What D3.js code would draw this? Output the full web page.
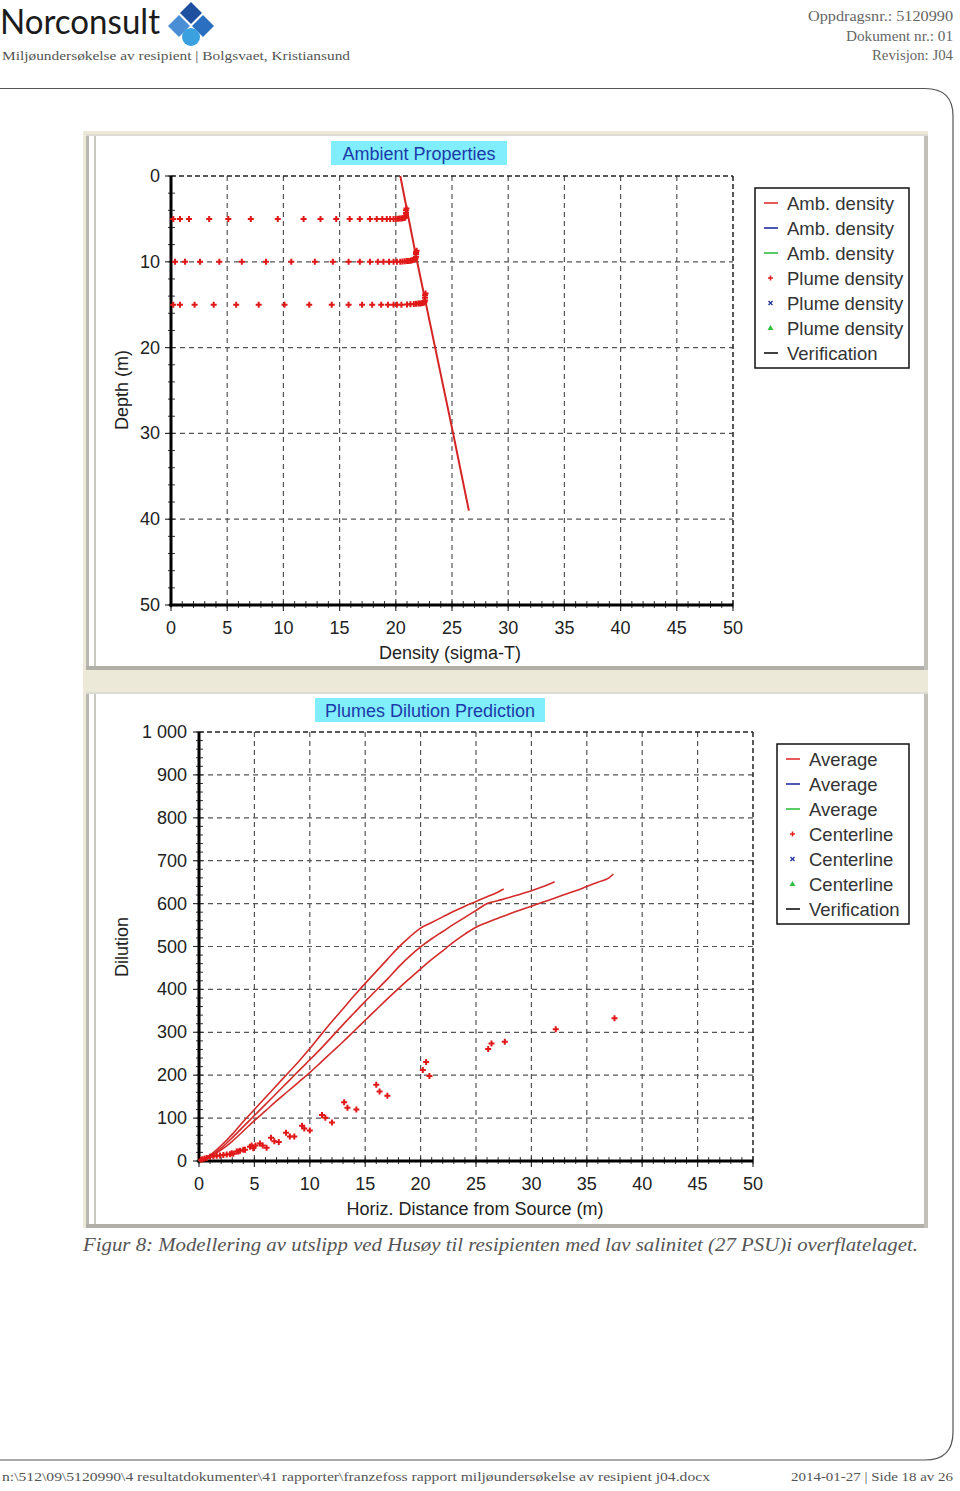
<!DOCTYPE html>
<html><head><meta charset="utf-8">
<script src="https://cdn.jsdelivr.net/npm/d3@7"></script>
<style>
html,body{margin:0;padding:0;background:#fff;}
svg{display:block;}
</style></head>
<body>
<script>
// ---------- DATA ----------
const densityTicks = [0,5,10,15,20,25,30,35,40,45,50];
const depthTicks = [0,10,20,30,40,50];
const ambientDensity = [20.4, 21.9, 23.5, 25.1, 26.5];
const ambientDepth = [0, 10, 20, 30, 39];

const plume1Density = [0.2,0.8,1.6,3.4,5.1,7.1,9.5,11.8,13.3,14.7,15.9,16.8,17.7,18.3,18.8,19.2,19.5,19.8,20.0,20.2,20.35,20.5,20.6,20.7,20.75,20.8,20.85,20.9,20.9,20.9,20.95];
const plume1Depth   = [5,5,5,5,5,5,5,5,5,5,5,5,5,5,5,5,5,5,5,4.98,4.96,4.94,4.92,4.9,4.87,4.84,4.8,4.6,4.3,4.0,3.8];
const plume2Density = [0.36,1.25,2.58,4.3,6.3,8.45,10.7,12.8,14.4,15.8,16.8,17.7,18.4,18.9,19.4,19.8,20.1,20.4,20.6,20.8,21.0,21.15,21.3,21.4,21.5,21.6,21.7,21.75,21.8,21.8,21.8,21.85];
const plume2Depth   = [10,10,10,10,10,10,10,10,10,10,10,10,10,10,10,10,10,10,9.97,9.95,9.92,9.9,9.87,9.84,9.8,9.75,9.7,9.6,9.4,9.1,8.9,8.7];
const plume3Density = [0.2,0.8,2.1,3.8,5.8,7.8,10.1,12.3,14.3,15.8,17.0,17.9,18.7,19.3,19.8,20.1,20.5,21.0,21.3,21.6,21.8,22.0,22.15,22.3,22.4,22.5,22.55,22.6,22.6,22.6,22.65];
const plume3Depth   = [15,15,15,15,15,15,15,15,15,15,15,15,15,15,15,15,15,14.97,14.95,14.92,14.9,14.87,14.85,14.82,14.8,14.75,14.7,14.5,14.2,13.9,13.7];

const distTicks = [0,5,10,15,20,25,30,35,40,45,50];
const dilutionTicks = [0,100,200,300,400,500,600,700,800,900,1000];
const dilutionTickLabels = ["0","100","200","300","400","500","600","700","800","900","1 000"];

const avg1X = [0,1,2,3,4,5,6,7,8,9,10,11,12,13,14,15,16,17,18,19,20,21,22,23,24,25,26,27,27.5];
const avg1Y = [0,14,36,62,92,120,148,176,204,232,262,294,325,355,385,414,442,470,498,522,543,556,569,582,594,605,616,627,634];
const avg2X = [0,1,2,3,4,5,6,7,8,9,10,11,12,13,14,15,16,17,18,19,20,21,22,23,24,25,26,27,28,29,30,31,32.1];
const avg2Y = [0,11,30,54,80,106,132,158,184,210,236,262,290,318,345,372,398,424,452,477,499,518,535,552,568,584,600,607,614,622,630,639,651];
const avg3X = [0,1,2,3,4,5,6,7,8,9,10,11,12,13,14,15,16,17,18,19,20,21,22,23,24,25,26,27,28,29,30,31,32,33,34,35,36,37,37.4];
const avg3Y = [0,10,26,46,70,94,117,140,162,184,206,230,254,278,303,328,353,378,402,425,448,470,490,511,529,545,556,566,576,585,594,603,612,621,630,640,650,660,669];

const centerX = [0.2,0.3,0.5,0.7,1.0,1.3,1.6,1.9,2.2,2.5,2.8,2.95,3.1,3.4,3.55,3.7,4.0,4.15,4.6,4.75,4.9,5.1,5.5,5.75,6.1,6.5,6.8,7.2,7.85,8.2,8.6,9.3,9.5,10.0,11.1,11.4,12.0,13.1,13.4,14.2,16.0,16.3,17.0,20.2,20.5,20.8,26.1,26.4,27.6,32.2,37.5];
const centerY = [3,4,6,7,10,11,12,13,14,15,16,18,17,22,22,24,26,26,33,36,30,36,41,36,31,54,46,44,66,57,57,82,76,71,107,101,90,137,124,120,178,162,152,212,231,198,261,274,278,307,333];

const legend1 = ["Amb. density","Amb. density","Amb. density","Plume density","Plume density","Plume density","Verification"];
const legend2 = ["Average","Average","Average","Centerline","Centerline","Centerline","Verification"];
const legendKinds = ["line","line","line","plus","x","tri","line"];
const legendColors = ["#e03030","#2030a0","#30c040","#e02020","#2030a0","#30c040","#111"];

// ---------- PAGE ----------
const W = 960, H = 1491;
const svg = d3.select("body").append("svg").attr("width", W).attr("height", H);
svg.append("rect").attr("width", W).attr("height", H).attr("fill", "#fff");

// header
svg.append("text").attr("x", 0).attr("y", 34).attr("font-family", "Lato, 'Open Sans', sans-serif")
  .attr("font-size", 34).attr("fill", "#1b1b1b").attr("textLength", 160).attr("lengthAdjust", "spacingAndGlyphs").text("Norconsult");
const logo = svg.append("g");
const dia = (cx, cy, r, c) => logo.append("path").attr("d", `M${cx},${cy-r}L${cx+r},${cy}L${cx},${cy+r}L${cx-r},${cy}Z`).attr("fill", c);
dia(191, 13, 11, "#1f4f9f");
dia(179, 26, 11, "#4a8fd6");
dia(203, 26, 11, "#2a6fc0");
logo.append("circle").attr("cx", 191).attr("cy", 37).attr("r", 9).attr("fill", "#3aa0e0");
svg.append("text").attr("x", 2).attr("y", 60).attr("font-family", "'Liberation Serif', serif").attr("font-size", 13.5)
  .attr("fill", "#555").attr("textLength", 348).attr("lengthAdjust", "spacingAndGlyphs")
  .text("Miljøundersøkelse av resipient | Bolgsvaet, Kristiansund");
const rt = [["Oppdragsnr.: 5120990", 21, 145], ["Dokument nr.: 01", 41, 107], ["Revisjon: J04", 60, 81]];
rt.forEach(d => svg.append("text").attr("x", 953).attr("y", d[1]).attr("text-anchor", "end")
  .attr("font-family", "'Liberation Serif', serif").attr("font-size", 14).attr("fill", "#666")
  .attr("textLength", d[2]).attr("lengthAdjust", "spacingAndGlyphs").text(d[0]));

// page frame
svg.append("path").attr("d", "M0,88.5H925Q953,88.5 953,116V1432Q953,1460 925,1460H0")
  .attr("fill", "none").attr("stroke", "#555").attr("stroke-width", 1.2);

// caption
svg.append("text").attr("x", 83).attr("y", 1251).attr("font-family", "'Liberation Serif', serif").attr("font-style", "italic")
  .attr("font-size", 18).attr("fill", "#555").attr("textLength", 835).attr("lengthAdjust", "spacingAndGlyphs")
  .text("Figur 8: Modellering av utslipp ved Husøy til resipienten med lav salinitet (27 PSU)i overflatelaget.");

// footer
svg.append("text").attr("x", 2).attr("y", 1481).attr("font-family", "'Liberation Serif', serif").attr("font-size", 13.5)
  .attr("fill", "#555").attr("textLength", 708).attr("lengthAdjust", "spacingAndGlyphs")
  .text("n:\\512\\09\\5120990\\4 resultatdokumenter\\41 rapporter\\franzefoss rapport miljøundersøkelse av resipient j04.docx");
svg.append("text").attr("x", 953).attr("y", 1481).attr("text-anchor", "end").attr("font-family", "'Liberation Serif', serif").attr("font-size", 13.5)
  .attr("fill", "#555").attr("textLength", 162).attr("lengthAdjust", "spacingAndGlyphs")
  .text("2014-01-27 | Side 18 av 26");

// screenshot background
svg.append("rect").attr("x", 83).attr("y", 131).attr("width", 845).attr("height", 1097).attr("fill", "#ece9d8");
function panel(y0, y1) {
  svg.append("rect").attr("x", 86).attr("y", y0).attr("width", 842).attr("height", y1 - y0).attr("fill", "#fff");
  svg.append("rect").attr("x", 86).attr("y", y0).attr("width", 3).attr("height", y1 - y0).attr("fill", "#b8b8b0");
  svg.append("rect").attr("x", 94).attr("y", y0).attr("width", 2).attr("height", y1 - y0).attr("fill", "#c8c8c0");
  svg.append("rect").attr("x", 86).attr("y", y1 - 4).attr("width", 842).attr("height", 4).attr("fill", "#b0b0a8");
  svg.append("rect").attr("x", 924).attr("y", y0).attr("width", 4).attr("height", y1 - y0).attr("fill", "#c0c0b8");
  svg.append("rect").attr("x", 86).attr("y", y0).attr("width", 842).attr("height", 2).attr("fill", "#dcdcd4");
}
panel(134, 670);
panel(692, 1228);

const FONT = "Arial, 'Liberation Sans', sans-serif";

function chart(opt) {
  const g = svg.append("g");
  const x = opt.x, y = opt.y;
  const [x0, x1] = x.range(), [yb, yt] = y.range();
  opt.xTicks.slice(1, -1).forEach(t => g.append("line").attr("x1", x(t)).attr("x2", x(t)).attr("y1", Math.min(yb,yt)).attr("y2", Math.max(yb,yt))
    .attr("stroke", "#555").attr("stroke-width", 1.2).attr("stroke-dasharray", "5,4"));
  opt.yTicks.slice(1, -1).forEach(t => g.append("line").attr("x1", x0).attr("x2", x1).attr("y1", y(t)).attr("y2", y(t))
    .attr("stroke", "#555").attr("stroke-width", 1.2).attr("stroke-dasharray", "5,4"));
  const ty = opt.topY, by = opt.botY;
  g.append("line").attr("x1", x0).attr("x2", x1).attr("y1", ty).attr("y2", ty).attr("stroke", "#222").attr("stroke-width", 1.5).attr("stroke-dasharray", "5,3");
  g.append("line").attr("x1", x1).attr("x2", x1).attr("y1", ty).attr("y2", by).attr("stroke", "#222").attr("stroke-width", 1.5).attr("stroke-dasharray", "5,3");
  d3.range(opt.xDomain[0], opt.xDomain[1] + 0.001, opt.xMinor).forEach(t => {
    g.append("line").attr("x1", x(t)).attr("x2", x(t)).attr("y1", by - 4).attr("y2", by + 3).attr("stroke", "#333").attr("stroke-width", 1);
  });
  d3.range(opt.yDomain[0], opt.yDomain[1] + 0.001, opt.yMinor).forEach(t => {
    g.append("line").attr("x1", x0 - 3).attr("x2", x0 + 4).attr("y1", y(t)).attr("y2", y(t)).attr("stroke", "#333").attr("stroke-width", 1);
  });
  opt.xTicks.forEach(t => g.append("line").attr("x1", x(t)).attr("x2", x(t)).attr("y1", by).attr("y2", by + 6).attr("stroke", "#333").attr("stroke-width", 1.2));
  opt.yTicks.forEach(t => g.append("line").attr("x1", x0 - 6).attr("x2", x0).attr("y1", y(t)).attr("y2", y(t)).attr("stroke", "#333").attr("stroke-width", 1.2));
  g.append("line").attr("x1", x0).attr("x2", x0).attr("y1", ty).attr("y2", by + 1.5).attr("stroke", "#000").attr("stroke-width", 3);
  g.append("line").attr("x1", x0 - 1.5).attr("x2", x1).attr("y1", by).attr("y2", by).attr("stroke", "#000").attr("stroke-width", 3);
  opt.xTicks.forEach(t => g.append("text").attr("x", x(t)).attr("y", by + 29).attr("text-anchor", "middle")
    .attr("font-family", FONT).attr("font-size", 18).attr("fill", "#222").text(t));
  opt.yTicks.forEach((t, i) => g.append("text").attr("x", opt.yLabelX).attr("y", y(t) + 6).attr("text-anchor", "end")
    .attr("font-family", FONT).attr("font-size", 18).attr("fill", "#222").text(opt.yLabels[i]));
  g.append("text").attr("x", opt.xTitleX).attr("y", by + 54).attr("text-anchor", "middle").attr("font-family", FONT)
    .attr("font-size", 18).attr("fill", "#222").text(opt.xTitle);
  g.append("text").attr("transform", `translate(128,${opt.yTitleY}) rotate(-90)`).attr("text-anchor", "middle").attr("font-family", FONT)
    .attr("font-size", 18).attr("fill", "#222").text(opt.yTitle);
  g.append("rect").attr("x", opt.titleBox[0]).attr("y", opt.titleBox[1]).attr("width", opt.titleBox[2]).attr("height", opt.titleBox[3]).attr("fill", "#80eefc");
  g.append("text").attr("x", opt.titleBox[0] + opt.titleBox[2] / 2).attr("y", opt.titleBox[1] + 18.5).attr("text-anchor", "middle")
    .attr("font-family", FONT).attr("font-size", 18).attr("fill", "#1c3aa8").text(opt.title);
  const [lx, ly, lw, lh] = opt.legendBox;
  g.append("rect").attr("x", lx).attr("y", ly).attr("width", lw).attr("height", lh).attr("fill", "#fff").attr("stroke", "#111").attr("stroke-width", 1.5);
  opt.legend.forEach((s, i) => {
    const yy = ly + 15 + i * 25;
    const k = legendKinds[i], c = legendColors[i];
    if (k === "line") g.append("line").attr("x1", lx + 9).attr("x2", lx + 23).attr("y1", yy).attr("y2", yy).attr("stroke", c).attr("stroke-width", 1.6);
    else if (k === "plus") g.append("path").attr("d", `M${lx+13},${yy}h5M${lx+15.5},${yy-2.5}v5`).attr("stroke", c).attr("stroke-width", 1.5);
    else if (k === "x") g.append("path").attr("d", `M${lx+13.5},${yy-2}l4,4M${lx+17.5},${yy-2}l-4,4`).attr("stroke", c).attr("stroke-width", 1.3);
    else g.append("path").attr("d", `M${lx+15.5},${yy-3}l3,5h-6Z`).attr("fill", c);
    g.append("text").attr("x", lx + 32).attr("y", yy + 6.5).attr("font-family", FONT).attr("font-size", 18.5).attr("fill", "#333").text(s);
  });
  return g;
}

// ---------- TOP CHART ----------
const xTop = d3.scaleLinear().domain([0, 50]).range([171, 733]);
const yTop = d3.scaleLinear().domain([0, 50]).range([176, 605]);
const gTop = chart({
  x: xTop, y: yTop, xTicks: densityTicks, yTicks: depthTicks, xDomain: [0, 50], yDomain: [0, 50], xMinor: 1, yMinor: 2,
  topY: 176, botY: 605, yLabelX: 160, yLabels: depthTicks.map(String),
  xTitle: "Density (sigma-T)", xTitleX: 450, yTitle: "Depth (m)", yTitleY: 390,
  title: "Ambient Properties", titleBox: [331, 141, 176, 24],
  legend: legend1, legendBox: [755, 188, 154, 180]
});
const ambLine = d3.line().x((d, i) => xTop(ambientDensity[i])).y((d, i) => yTop(ambientDepth[i]));
gTop.append("path").attr("d", ambLine(ambientDepth)).attr("fill", "none").attr("stroke", "#d42424").attr("stroke-width", 2);
const plus = (g, px, py, s, c, w) => g.append("path").attr("d", `M${px-s},${py}h${2*s}M${px},${py-s}v${2*s}`).attr("stroke", c).attr("stroke-width", w);
[[plume1Density, plume1Depth], [plume2Density, plume2Depth], [plume3Density, plume3Depth]].forEach(([dx, dy]) => {
  dx.forEach((v, i) => plus(gTop, xTop(v), yTop(dy[i]), 3, "#e01818", 2));
});

// ---------- BOTTOM CHART ----------
const xBot = d3.scaleLinear().domain([0, 50]).range([199, 753]);
const yBot = d3.scaleLinear().domain([0, 1000]).range([1161, 732]);
const gBot = chart({
  x: xBot, y: yBot, xTicks: distTicks, yTicks: dilutionTicks, xDomain: [0, 50], yDomain: [0, 1000], xMinor: 1, yMinor: 20,
  topY: 732, botY: 1161, yLabelX: 187, yLabels: dilutionTickLabels,
  xTitle: "Horiz. Distance from Source (m)", xTitleX: 475, yTitle: "Dilution", yTitleY: 947,
  title: "Plumes Dilution Prediction", titleBox: [315, 698, 230, 24],
  legend: legend2, legendBox: [777, 744, 132, 180]
});
[[avg1X, avg1Y], [avg2X, avg2Y], [avg3X, avg3Y]].forEach(([ax, ay]) => {
  const ln = d3.line().x((d, i) => xBot(ax[i])).y((d, i) => yBot(ay[i])).curve(d3.curveMonotoneX);
  gBot.append("path").attr("d", ln(ax)).attr("fill", "none").attr("stroke", "#d42a2a").attr("stroke-width", 1.6);
});
centerX.forEach((v, i) => plus(gBot, xBot(v), yBot(centerY[i]), 3, "#e01818", 2));
</script>
</body></html>
